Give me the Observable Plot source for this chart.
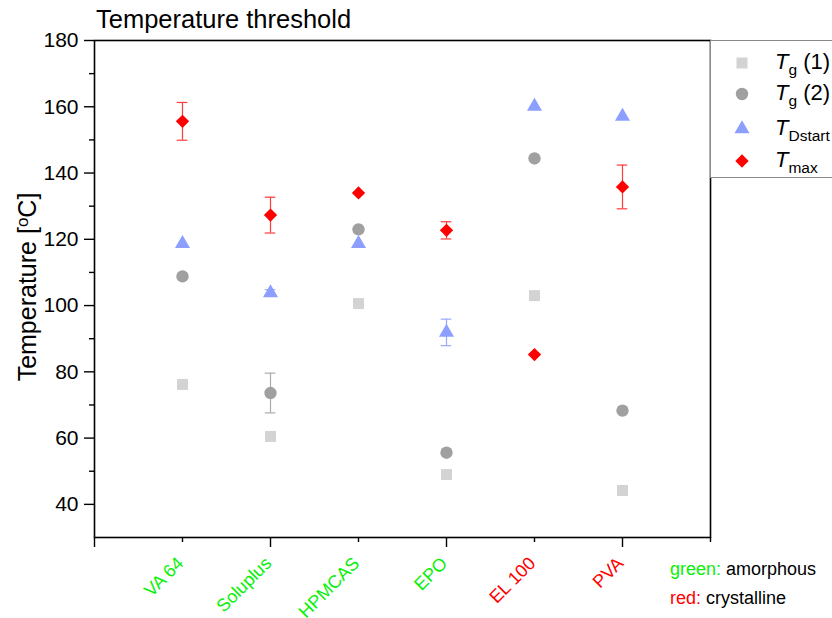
<!DOCTYPE html>
<html>
<head>
<meta charset="utf-8">
<script src="https://cdn.jsdelivr.net/npm/d3@7"></script>
<script src="https://cdn.jsdelivr.net/npm/@observablehq/plot@0.6"></script>
<style>
  body { margin: 0; background: #fff; }
  #wrap { position: relative; width: 832px; height: 618px; font-family: "Liberation Sans", Arial, sans-serif; overflow: hidden; }
  #wrap svg.plot { position: absolute; left: 0; top: 0; }
  .ov { position: absolute; white-space: nowrap; color: #000; }
  .leg-row { position: absolute; left: 0; height: 30px; }
  .leg-row svg { position: absolute; left: 22px; top: 7px; }
  .leg-row span { position: absolute; left: 64px; top: 0; font-size: 22px; line-height: 30px; }
  .leg-row i { font-style: italic; }
  .leg-row sub { font-size: 15.5px; vertical-align: -6px; line-height: 0; }
</style>
</head>
<body>
<div id="wrap"></div>
<script>
// ---- data ----
const categories = ["VA 64", "Soluplus", "HPMCAS", "EPO", "EL 100", "PVA"];
const categoryState = ["amorphous", "amorphous", "amorphous", "amorphous", "crystalline", "crystalline"];
const tg1 = [76.2, 60.5, 100.6, 49.0, 103.0, 44.2];
const tg1Err = [0, 0, 0, 0, 0, 0];
const tg2 = [108.8, 73.6, 123.0, 55.6, 144.4, 68.3];
const tg2Err = [0, 6.0, 0, 0, 0, 0];
const tDstart = [118.7, 103.8, 118.7, 91.9, 160.1, 157.1];
const tDstartErr = [0, 1.0, 0, 4.0, 0, 0];
const tMax = [155.6, 127.3, 134.0, 122.7, 85.2, 135.8];
const tMaxErr = [5.7, 5.4, 0, 2.6, 0, 6.6];
const yTicks = [40, 60, 80, 100, 120, 140, 160, 180];
const yMinorTicks = [50, 70, 90, 110, 130, 150, 170];
const xMajorTicks = [0, 2, 4, 6];
const xMinorTicks = [1, 3, 5, 7];

const stateColor = { amorphous: "#0af00a", crystalline: "#ff0000" };
const series = [
  { key: "tg1", values: tg1, err: tg1Err, symbol: "square", color: "#d3d3d3", errColor: "#c8c8c8", r: 6.2 },
  { key: "tg2", values: tg2, err: tg2Err, symbol: "circle", color: "#a0a0a0", errColor: "#aaaaaa", r: 6.2 },
  { key: "tD", values: tDstart, err: tDstartErr, symbol: "triangle", color: "#8c9fff", errColor: "#97a8ff", r: 5.6 },
  { key: "tMax", values: tMax, err: tMaxErr, symbol: "diamond2", color: "#ff0000", errColor: "#ff3a3a", r: 6.0 }
];

const rows = [];
series.forEach(s => categories.forEach((c, i) => rows.push({
  series: s.key, pos: i + 1, v: s.values[i], e: s.err[i], symbol: s.symbol, color: s.color, errColor: s.errColor, r: s.r
})));
const errRows = rows.filter(d => d.e > 0);
const labels = categories.map((c, i) => ({ name: c, pos: i + 1, color: stateColor[categoryState[i]] }));

const marks = [
  Plot.axisY({ ticks: yTicks, tickSize: 10, tickPadding: 6, fontSize: 21, strokeWidth: 1.4, label: null }),
  Plot.axisY({ ticks: yMinorTicks, tickSize: 5, tickFormat: () => "", strokeWidth: 1.4, label: null }),
  Plot.axisX({ ticks: xMajorTicks, tickSize: 10, tickFormat: () => "", strokeWidth: 1.4, label: null }),
  Plot.axisX({ ticks: xMinorTicks, tickSize: 5, tickFormat: () => "", strokeWidth: 1.4, label: null }),
  Plot.frame({ stroke: "#000", strokeWidth: 1.6 }),
  Plot.text(labels, {
    x: "pos", text: "name", fill: "color", frameAnchor: "bottom",
    rotate: -45, textAnchor: "end", dx: 2, dy: 27, fontSize: 18
  })
];
series.forEach(s => {
  const er = errRows.filter(d => d.series === s.key);
  marks.push(
    Plot.ruleX(er, { x: "pos", y1: d => d.v - d.e, y2: d => d.v + d.e, stroke: s.errColor, strokeWidth: 1.2 }),
    Plot.ruleY(er, { y: d => d.v - d.e, x1: d => d.pos - 0.06, x2: d => d.pos + 0.06, stroke: s.errColor, strokeWidth: 1.2 }),
    Plot.ruleY(er, { y: d => d.v + d.e, x1: d => d.pos - 0.06, x2: d => d.pos + 0.06, stroke: s.errColor, strokeWidth: 1.2 }),
    Plot.dot(rows.filter(d => d.series === s.key), { x: "pos", y: "v", symbol: s.symbol, fill: s.color, r: s.r, stroke: "none" })
  );
});

const chart = Plot.plot({
  width: 832,
  height: 618,
  marginLeft: 94,
  marginRight: 122,
  marginTop: 40,
  marginBottom: 81,
  style: { fontFamily: "'Liberation Sans', Arial, sans-serif", color: "#000", background: "transparent", overflow: "visible" },
  x: { type: "linear", domain: [0, 7] },
  y: { domain: [30, 180] },
  symbol: { type: "identity" },
  marks
});
chart.classList.add("plot");
const wrap = document.getElementById("wrap");
wrap.appendChild(chart);

// title
const title = document.createElement("div");
title.className = "ov";
title.style.cssText = "left:96px;top:5px;font-size:25.5px;";
title.textContent = "Temperature threshold";
wrap.appendChild(title);

// y label
const yl = document.createElement("div");
yl.className = "ov";
yl.style.cssText = "left:27px;top:287px;font-size:25px;transform:translate(-50%,-50%) rotate(-90deg);";
yl.innerHTML = 'Temperature [<sup style="font-size:17px;vertical-align:8px;line-height:0">o</sup>C]';
wrap.appendChild(yl);

// legend
const leg = document.createElement("div");
leg.style.cssText = "position:absolute;left:710px;top:40px;width:140px;height:138px;border:1px solid #8a8a8a;background:#fff;box-sizing:border-box;";
const legItems = [
  { s: series[0], html: '<i>T</i><sub>g</sub> (1)', top: 6 },
  { s: series[1], html: '<i>T</i><sub>g</sub> (2)', top: 37 },
  { s: series[2], html: '<i>T</i><sub>Dstart</sub>', top: 72 },
  { s: series[3], html: '<i>T</i><sub>max</sub>', top: 104 }
];
const symMap = { square: d3.symbolSquare, circle: d3.symbolCircle, triangle: d3.symbolTriangle, diamond2: d3.symbolDiamond2 };
legItems.forEach(it => {
  const row = document.createElement("div");
  row.className = "leg-row";
  row.style.top = it.top + "px";
  row.style.width = "140px";
  const path = d3.symbol(symMap[it.s.symbol], it.s.r * it.s.r * Math.PI)();
  row.innerHTML = `<svg width="18" height="18" viewBox="-9 -9 18 18"><path d="${path}" fill="${it.s.color}"/></svg><span>${it.html}</span>`;
  leg.appendChild(row);
});
wrap.appendChild(leg);

// caption
const cap1 = document.createElement("div");
cap1.className = "ov";
cap1.style.cssText = "left:670px;top:559px;font-size:18px;";
cap1.innerHTML = `<span style="color:${stateColor.amorphous}">green:</span> amorphous`;
wrap.appendChild(cap1);
const cap2 = document.createElement("div");
cap2.className = "ov";
cap2.style.cssText = "left:670px;top:588px;font-size:18px;";
cap2.innerHTML = `<span style="color:${stateColor.crystalline}">red:</span> crystalline`;
wrap.appendChild(cap2);
</script>
</body>
</html>
